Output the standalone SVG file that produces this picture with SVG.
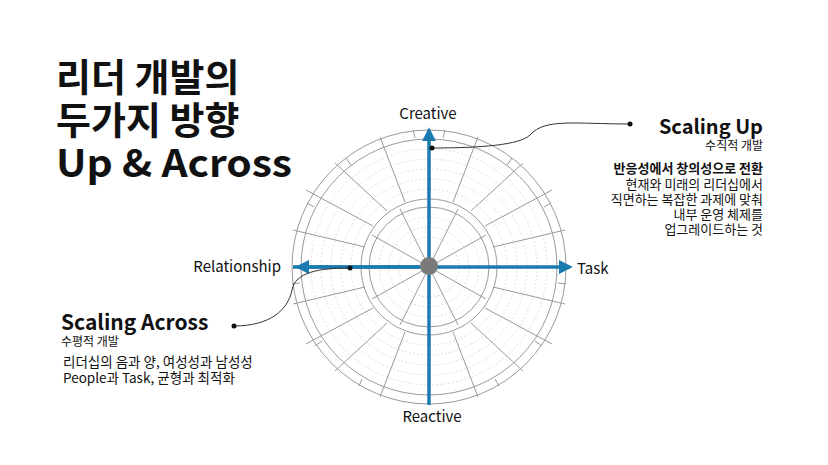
<svg xmlns="http://www.w3.org/2000/svg" width="828" height="465" viewBox="0 0 828 465">
<defs>
<style>
.t{font-family:"Noto Sans CJK KR","Noto Sans",sans-serif;fill:#111}
.g{fill:none;stroke:#9a9a9a;stroke-width:1}
.gl{fill:none;stroke:#c8c8c8;stroke-width:0.6;stroke-dasharray:2 2}
.ax{stroke:#1b7bb0;stroke-width:3.5;fill:none}
.c{fill:none;stroke:#333;stroke-width:1}
</style>
<marker id="ah" viewBox="0 0 10 10" refX="8" refY="5" markerWidth="4" markerHeight="4" orient="auto"><path d="M0,0L10,5L0,10z" fill="#1b7bb0"/></marker>
</defs>
<rect width="828" height="465" fill="#fff"/>
<g id="title">
<text class="t" x="56" y="91" font-size="38" font-weight="700">리더 개발의</text>
<text class="t" x="56" y="134" font-size="38" font-weight="700">두가지 방향</text>
<text class="t" x="56" y="177" font-size="38" font-weight="700" textLength="236" lengthAdjust="spacingAndGlyphs">Up &amp; Across</text>
</g>
<g id="wheel">
<circle class="g" cx="429" cy="267" r="137"/>
<circle class="g" cx="429" cy="267" r="128"/>
<circle class="g" cx="429" cy="267" r="68"/>
<circle class="g" cx="429" cy="267" r="60"/>
<circle class="gl" cx="429" cy="267" r="118"/>
<circle class="gl" cx="429" cy="267" r="108"/>
<circle class="gl" cx="429" cy="267" r="98"/>
<circle class="gl" cx="429" cy="267" r="88"/>
<circle class="gl" cx="429" cy="267" r="78"/>
<circle class="gl" cx="429" cy="267" r="50"/>
<circle class="gl" cx="429" cy="267" r="40"/>
<circle class="gl" cx="429" cy="267" r="30"/>
<g class="g">
<path d="M429,267L458,209M429,267L486,235M429,267L486,299M429,267L458,325M429,267L400,325M429,267L372,299M429,267L372,235M429,267L400,209"/>
<path d="M453,202L478,137M471,211L523,163M485,226L552,190M493,247L565,230M493,287L565,304M485,308L552,344M471,323L523,371M453,332L478,397M405,332L380,397M387,323L335,371M373,308L306,344M365,287L293,304M365,247L293,230M373,226L306,190M387,211L335,163M405,202L380,137"/>
<path d="M443,138L445,130M507,165L512,158M544,207L551,203M558,283L566,284M535,341L542,346M495,379L499,386M362,379L359,386M322,341L315,346M300,283L292,284M314,207L307,203M351,165L346,158M415,138L413,130" />
</g>
</g>
<g id="axes">
<line class="ax" x1="429" y1="405" x2="429" y2="130" marker-end="url(#ah)"/>
<line class="ax" x1="293" y1="267" x2="570" y2="267" marker-end="url(#ah)"/>
<line class="ax" x1="429" y1="267" x2="298" y2="267" marker-end="url(#ah)"/>
<circle cx="429" cy="266" r="9" fill="#7a7a7a"/>
</g>
<g id="labels">
<text class="t" x="428" y="119" font-size="15" text-anchor="middle">Creative</text>
<text class="t" x="432" y="422" font-size="15" text-anchor="middle">Reactive</text>
<text class="t" x="281" y="272" font-size="15" text-anchor="end">Relationship</text>
<text class="t" x="577" y="274" font-size="15">Task</text>
</g>
<g id="connectors">
<path class="c" d="M432,148C480,148 520,145 530,135C545,118 575,124 630,124"/>
<circle cx="432" cy="148" r="2.5" fill="#111"/>
<circle cx="630" cy="124" r="2.5" fill="#111"/>
<path class="c" d="M350,268C320,268 295,272 292,290C288,310 270,326 234,326"/>
<circle cx="350" cy="268" r="2.5" fill="#111"/>
<circle cx="234" cy="326" r="2.5" fill="#111"/>
</g>
<g id="scaling-up">
<text class="t" x="763" y="134" font-size="20" font-weight="700" text-anchor="end">Scaling Up</text>
<text class="t" x="763" y="150" font-size="12" text-anchor="end" fill="#333">수직적 개발</text>
<text class="t" x="763" y="173" font-size="13" font-weight="700" text-anchor="end">반응성에서 창의성으로 전환</text>
<text class="t" x="763" y="189" font-size="13" text-anchor="end" fill="#333">현재와 미래의 리더십에서</text>
<text class="t" x="763" y="204" font-size="13" text-anchor="end" fill="#333">직면하는 복잡한 과제에 맞춰</text>
<text class="t" x="763" y="219" font-size="13" text-anchor="end" fill="#333">내부 운영 체제를</text>
<text class="t" x="763" y="234" font-size="13" text-anchor="end" fill="#333">업그레이드하는 것</text>
</g>
<g id="scaling-across">
<text class="t" x="61" y="330" font-size="21" font-weight="700">Scaling Across</text>
<text class="t" x="61" y="346" font-size="12" fill="#333">수평적 개발</text>
<text class="t" x="63" y="367" font-size="13.5" fill="#333">리더십의 음과 양, 여성성과 남성성</text>
<text class="t" x="63" y="383" font-size="13.5" fill="#333">People과 Task, 균형과 최적화</text>
</g>
</svg>
